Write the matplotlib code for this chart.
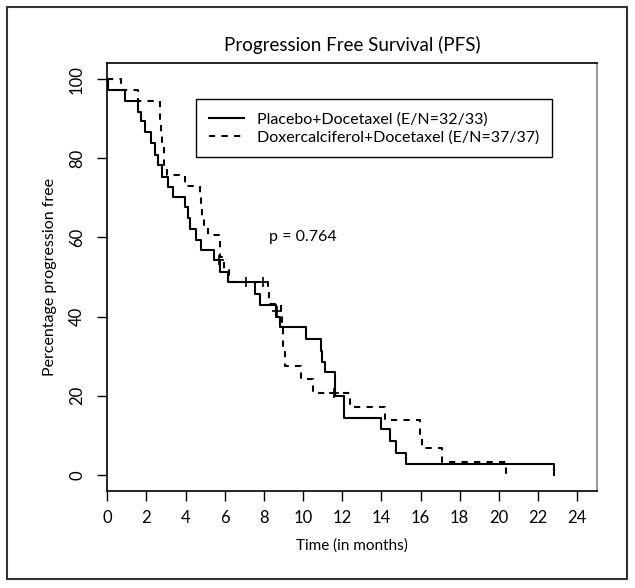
import matplotlib
matplotlib.use('Agg')
import matplotlib.pyplot as plt
from matplotlib.patches import Rectangle

plt.rcParams['font.family'] = ['Lato', 'DejaVu Sans']

# Kaplan-Meier steps: time (months) where each level starts
placebo_t = [0, 0.05, 0.88, 1.57, 1.74, 1.91, 2.25, 2.42, 2.59, 2.81, 3.1, 3.36, 3.95,
             4.12, 4.21, 4.55, 4.8, 5.45, 5.74, 6.18, 7.53, 7.78, 8.6, 8.8, 10.15,
             10.93, 10.97, 11.1, 11.61, 12.08, 14.0, 14.43, 14.77, 15.28, 22.8]
placebo_s = [100, 97.3, 94.6, 91.8, 89.3, 86.7, 83.8, 80.8, 78.3, 75.3, 72.8, 70.3, 67.7,
             64.8, 62.2, 59.3, 56.8, 54.2, 51.3, 48.7, 45.8, 42.8, 40.0, 37.3, 34.3,
             31.4, 28.5, 25.9, 20.0, 14.4, 11.6, 8.6, 5.65, 2.87, 0]

doxer_t = [0, 0.71, 1.56, 2.67, 2.7, 2.76, 2.8, 2.88, 2.92, 3.05, 3.95, 4.75, 4.8,
           4.85, 4.95, 5.14, 5.74, 5.78, 5.95, 6.2, 8.2, 8.25, 8.89, 8.92, 8.95,
           9.0, 9.1, 9.9, 10.5, 12.38, 14.17, 15.96, 16.05, 17.1, 20.35]
doxer_s = [100, 97.3, 94.6, 91.9, 89.2, 86.5, 83.8, 81.1, 78.4, 75.7, 72.9, 70.2, 67.5,
           64.8, 62.3, 60.6, 57.9, 55.1, 51.8, 48.7, 46.0, 43.1, 40.3, 37.1, 34.0,
           31.0, 27.6, 24.1, 20.6, 17.1, 13.9, 10.4, 6.9, 3.3, 0]

# censor marks
placebo_cens_t = [5.7, 7.1, 7.95, 8.67]
placebo_cens_s = [54.2, 48.7, 48.7, 41.4]
doxer_cens_t = [11.6]
doxer_cens_s = [20.6]

labels = ['Placebo+Docetaxel (E/N=32/33)', 'Doxercalciferol+Docetaxel (E/N=37/37)']
p_text = 'p = 0.764'

fig = plt.figure(figsize=(6.35, 5.88), dpi=100)
ax = fig.add_axes([0.169, 0.1655, 0.7707, 0.7268])

ax.step(placebo_t, placebo_s, where='post', color='black', lw=1.5, label=labels[0])
ax.step(doxer_t, doxer_s, where='post', color='black', lw=1.5,
        linestyle=(0, (3, 3)), label=labels[1])
ax.plot(placebo_cens_t, placebo_cens_s, '+', color='black', ms=7, mew=1.2)
ax.plot(doxer_cens_t, doxer_cens_s, '+', color='black', ms=7, mew=1.2)

ax.set_xlim(0, 25)
ax.set_ylim(-4, 104)
ax.set_xticks(range(0, 25, 2))
ax.set_yticks(range(0, 101, 20))
ax.tick_params(axis='both', direction='out', length=7, width=1, labelsize=12)
ax.tick_params(axis='x', pad=7)
ax.tick_params(axis='y', pad=9)
for lab in ax.get_yticklabels():
    lab.set_rotation(90)
    lab.set_va('center')

for side in ['left', 'bottom', 'top']:
    ax.spines[side].set_linewidth(1.2)
ax.spines['right'].set_color('#888888')
ax.spines['right'].set_linewidth(1.2)

ax.set_title('Progression Free Survival (PFS)', fontsize=13.5, pad=9)
ax.set_xlabel('Time (in months)', fontsize=11, labelpad=9)
ax.set_ylabel('Percentage progression free', fontsize=11.5, labelpad=9)

ax.text(10.0, 60.1, p_text, ha='center', va='center', fontsize=11.5)

leg = ax.legend(loc='upper left', bbox_to_anchor=(0.181, 0.916), borderaxespad=0,
                fancybox=False, edgecolor='black', framealpha=1, fontsize=11.5,
                handlelength=2.2, borderpad=0.8, labelspacing=0.25)
leg.get_frame().set_linewidth(1.0)

fig.patches.append(Rectangle((0.011, 0.0153), 0.976, 0.973, transform=fig.transFigure,
                             fill=False, edgecolor='#333333', lw=1.5))

fig.savefig('out.png', dpi=100)
